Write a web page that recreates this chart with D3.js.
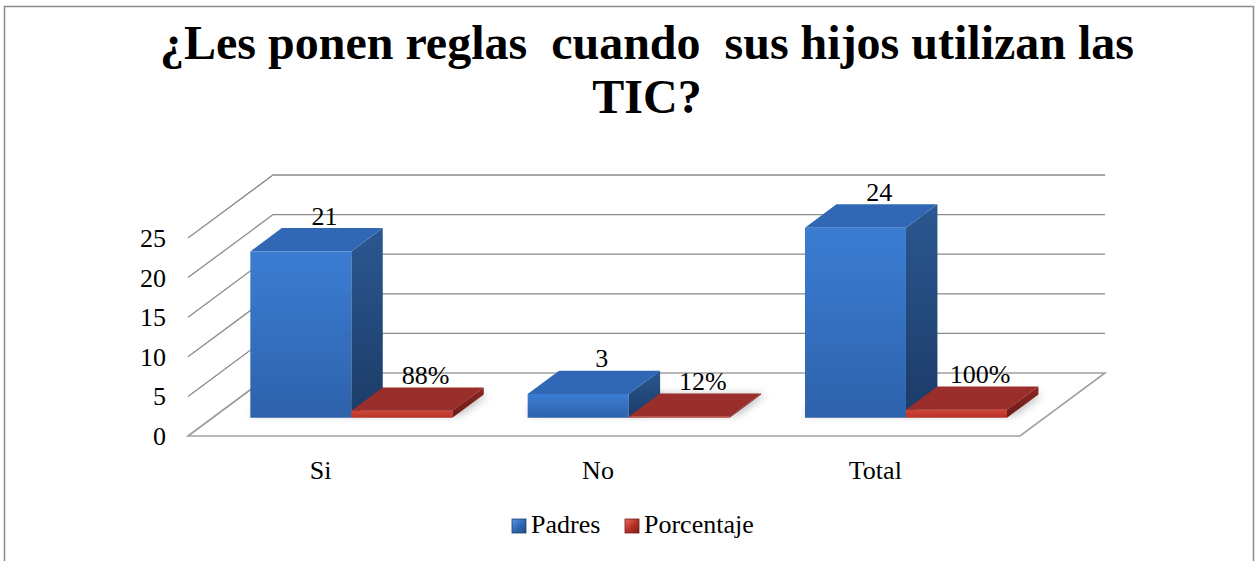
<!DOCTYPE html>
<html>
<head>
<meta charset="utf-8">
<script src="https://cdn.jsdelivr.net/npm/d3@7"></script>
<style>
  body { margin: 0; background: #fff; }
  text { white-space: pre; }
</style>
</head>
<body>
<svg width="1255" height="561" font-family="'Liberation Serif', 'Times New Roman', Times, serif"></svg>
<script>
var categories = ['Si', 'No', 'Total'],
	series = ['Padres', 'Porcentaje'],
	padres = [21, 3, 24],
	porcentaje = [0.88, 0.12, 1.00],
	porcentaje_labels = ['88%', '12%', '100%'],
	y_ticks = [0, 5, 10, 15, 20, 25],
	title_lines = ['¿Les ponen reglas  cuando  sus hijos utilizan las', 'TIC?']

var svg = d3.select('svg'),
	DX = 85, DY = 63,          // full floor depth offset
	z0 = 0.29, z1 = 0.66        // bar depth (front, back)

var x0 = d3.scaleBand().domain(categories).range([188, 1020]).paddingInner(0.2716).paddingOuter(0.1358),
	x1 = d3.scaleBand().domain(series).range([0, x0.bandwidth()]),
	y = d3.scaleLinear().domain([0, 25]).range([436, 238])

// oblique projection: front-plane x, value v, depth z
function P(x, v, z) { return [x + z * DX, y(v) - z * DY] }
function poly(pts) { return 'M' + pts.map(function(p) { return p.join(',') }).join('L') + 'Z' }

var defs = svg.append('defs')
function grad(id, stops, diag) {
	var g = defs.append('linearGradient').attr('id', id)
		.attr('x1', 0).attr('y1', 0).attr('x2', diag ? 1 : 0).attr('y2', 1)
	stops.forEach(function(s) { g.append('stop').attr('offset', s[0]).attr('stop-color', s[1]) })
}
grad('blueFront', [[0, '#3b7dd3'], [1, '#2e62ab']])
grad('blueSide', [[0, '#2b5891'], [1, '#1c3b67']])
grad('redFront', [[0, '#cf4538'], [1, '#b8322a']])
grad('redSide', [[0, '#8a2622'], [1, '#6e1c1a']])
grad('blueKey', [[0, '#5d9ae6'], [0.5, '#3068b5'], [1, '#1f4a85']], true)
grad('redKey', [[0, '#ef6a60'], [0.5, '#b8322a'], [1, '#7c201c']], true)
defs.append('filter').attr('id', 'blur').attr('x', '-20%').attr('y', '-50%').attr('width', '140%').attr('height', '200%')
	.append('feGaussianBlur').attr('stdDeviation', 4)

var colors = {
	Padres: { front: 'url(#blueFront)', side: 'url(#blueSide)', top: '#3068b5', key: 'url(#blueKey)', edge: '#1d3f6e' },
	Porcentaje: { front: 'url(#redFront)', side: 'url(#redSide)', top: '#9a2e2b', key: 'url(#redKey)', edge: '#6e1c1a' }
}

// outer border
svg.append('rect').attr('x', 4.5).attr('y', 6.5).attr('width', 1249).attr('height', 560)
	.attr('fill', 'none').attr('stroke', '#8c8c8c').attr('stroke-width', 1.5)

// title
svg.append('g').selectAll('text').data(title_lines).enter().append('text')
	.attr('x', 647).attr('y', function(d, i) { return 59 + i * 54 })
	.attr('text-anchor', 'middle').attr('font-size', 48).attr('font-weight', 'bold')
	.text(function(d) { return d })

// walls and floor
var grid = svg.append('g').attr('stroke', '#8a8a8a').attr('stroke-width', 1.3).attr('fill', 'none')
var xl = x0.range()[0], xr = x0.range()[1]
y_ticks.forEach(function(t) {
	var a = P(xl, t, 0), b = P(xl, t, 1), c = P(xr, t, 1)
	grid.append('path').attr('d', 'M' + a + 'L' + b + (t > 0 ? 'L' + c : ''))
})
grid.append('path').attr('stroke', '#a0a0a0').attr('stroke-width', 1.6)
	.attr('d', poly([P(xl, 0, 0), P(xr, 0, 0), P(xr, 0, 1), P(xl, 0, 1)]))

// y tick labels
svg.append('g').selectAll('text').data(y_ticks).enter().append('text')
	.attr('x', 166).attr('y', function(d) { return y(d) + 9 })
	.attr('text-anchor', 'end').attr('font-size', 26).text(function(d) { return d })

// category labels
svg.append('g').selectAll('text').data(categories).enter().append('text')
	.attr('x', function(d) { return x0(d) + x0.bandwidth() / 2 - 6 }).attr('y', 479)
	.attr('text-anchor', 'middle').attr('font-size', 26).text(function(d) { return d })

// bars
var bars = []
categories.forEach(function(c, i) {
	bars.push({ cat: c, s: 'Padres', v: padres[i], label: String(padres[i]) })
	bars.push({ cat: c, s: 'Porcentaje', v: porcentaje[i], label: porcentaje_labels[i] })
})

var shadows = svg.append('g').attr('filter', 'url(#blur)')
var barG = svg.append('g')
bars.forEach(function(b) {
	var xa = x0(b.cat) + x1(b.s), xb = xa + x1.bandwidth()
	shadows.append('path').attr('fill', '#000').attr('opacity', 0.28)
		.attr('d', poly([P(xa - 6, 0, z0 + 0.05), P(xb + 4, 0, z0 + 0.05), P(xb + 4, 0, z1), P(xa - 6, 0, z1)]))
	var g = barG.append('g'), col = colors[b.s]
	g.append('path').attr('fill', col.side)
		.attr('d', poly([P(xb, 0, z0), P(xb, 0, z1), P(xb, b.v, z1), P(xb, b.v, z0)]))
	g.append('path').attr('fill', col.top)
		.attr('d', poly([P(xa, b.v, z0), P(xb, b.v, z0), P(xb, b.v, z1), P(xa, b.v, z1)]))
	g.append('path').attr('fill', col.front)
		.attr('d', poly([P(xa, 0, z0), P(xb, 0, z0), P(xb, b.v, z0), P(xa, b.v, z0)]))
	b.lx = (xa + xb) / 2
})

// data labels
barG.selectAll('text.lbl').data(bars).enter().append('text').attr('class', 'lbl')
	.attr('x', function(d) { return P(d.lx, d.v, (z0 + z1) / 2)[0] + 8 })
	.attr('y', function(d) { return P(d.lx, d.v, (z0 + z1) / 2)[1] - 15 })
	.attr('text-anchor', 'middle').attr('font-size', 26).text(function(d) { return d.label })

// legend
var legend = svg.append('g').attr('font-size', 26)
var lx = [512, 625]
series.forEach(function(s, i) {
	legend.append('rect').attr('x', lx[i]).attr('y', 519).attr('width', 14).attr('height', 14)
		.attr('fill', colors[s].key).attr('stroke', colors[s].edge).attr('stroke-width', 0.8)
	legend.append('text').attr('x', lx[i] + 19).attr('y', 533).text(s)
})
</script>
</body>
</html>
